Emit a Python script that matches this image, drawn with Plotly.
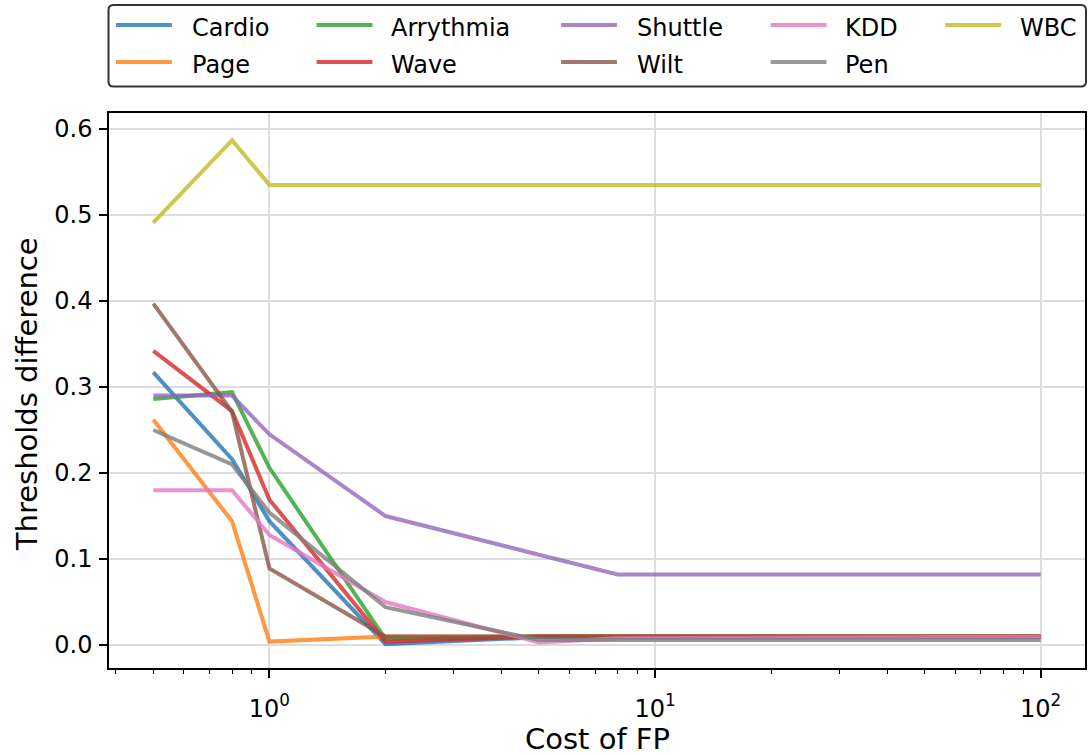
import plotly.graph_objects as go

# Cost of a false positive (log axis)
cost_fp = [0.5, 0.8, 1, 2, 5, 8, 100]

# Threshold difference per dataset
cardio    = [0.317, 0.216, 0.144, 0.001, 0.009, 0.009, 0.009]
page      = [0.262, 0.144, 0.004, 0.010, 0.010, 0.010, 0.010]
arrythmia = [0.286, 0.294, 0.206, 0.007, 0.010, 0.010, 0.010]
wave      = [0.342, 0.272, 0.169, 0.004, 0.010, 0.010, 0.010]
shuttle   = [0.290, 0.290, 0.245, 0.150, 0.105, 0.082, 0.082]
wilt      = [0.397, 0.271, 0.089, 0.010, 0.010, 0.010, 0.010]
kdd       = [0.180, 0.180, 0.128, 0.050, 0.003, 0.008, 0.0097]
pen       = [0.250, 0.210, 0.154, 0.044, 0.006, 0.006, 0.006]
wbc       = [0.491, 0.587, 0.535, 0.535, 0.535, 0.535, 0.535]

names = ["Cardio", "Page", "Arrythmia", "Wave", "Shuttle", "Wilt", "KDD", "Pen", "WBC"]
series = [cardio, page, arrythmia, wave, shuttle, wilt, kdd, pen, wbc]
colors = ["#1f77b4", "#ff7f0e", "#2ca02c", "#d62728", "#9467bd",
          "#8c564b", "#e377c2", "#7f7f7f", "#bcbd22"]

y_ticks = [0.0, 0.1, 0.2, 0.3, 0.4, 0.5, 0.6]
x_major = [1, 10, 100]
x_major_text = ["10<sup>0</sup>", "10<sup>1</sup>", "10<sup>2</sup>"]
x_minor = [m * 10 ** e for e in (-1, 0, 1) for m in range(2, 10)]

FONT = "DejaVu Sans"
W, H = 1092, 755
L, R, T, B = 109, 5, 113, 87
PW, PH = W - L - R, H - T - B


def px_x(p):
    return (p - L) / PW


def px_y(p):
    return (H - B - p) / PH


def rgba(hex_color, a):
    h = hex_color.lstrip("#")
    r, g, b = int(h[0:2], 16), int(h[2:4], 16), int(h[4:6], 16)
    return f"rgba({r},{g},{b},{a})"


fig = go.Figure()
for name, vals, col in zip(names, series, colors):
    fig.add_trace(go.Scatter(
        x=cost_fp, y=vals, mode="lines", name=name,
        line=dict(color=col, width=4), opacity=0.8, showlegend=False,
    ))

# Legend: 5 columns x 2 rows, filled column by column
shapes = []
annotations = []
line_x0 = [116, 317, 562, 772, 947]
text_x0 = [190, 390, 636, 845, 1020]
row_y = [25, 62]
for i, (name, col) in enumerate(zip(names, colors)):
    c, r = divmod(i, 2)
    shapes.append(dict(
        type="line", xref="paper", yref="paper",
        x0=px_x(line_x0[c]), x1=px_x(line_x0[c] + 56),
        y0=px_y(row_y[r]), y1=px_y(row_y[r]),
        line=dict(color=rgba(col, 0.8), width=4),
    ))
    annotations.append(dict(
        text=name, xref="paper", yref="paper",
        x=px_x(text_x0[c]), y=px_y(row_y[r] + 3),
        xanchor="left", yanchor="middle", showarrow=False,
        font=dict(family=FONT, size=24, color="black"),
    ))

# Legend frame with rounded corners
fx0, fx1, fy0, fy1 = 108.5, 1088, 5, 86.5
rad = 5
X0, X1 = px_x(fx0), px_x(fx1)
Y0, Y1 = px_y(fy0), px_y(fy1)
rx, ry = rad / PW, rad / PH
path = (f"M {X0 + rx},{Y0} L {X1 - rx},{Y0} Q {X1},{Y0} {X1},{Y0 - ry} "
        f"L {X1},{Y1 + ry} Q {X1},{Y1} {X1 - rx},{Y1} "
        f"L {X0 + rx},{Y1} Q {X0},{Y1} {X0},{Y1 + ry} "
        f"L {X0},{Y0 - ry} Q {X0},{Y0} {X0 + rx},{Y0} Z")
shapes.append(dict(type="path", xref="paper", yref="paper", path=path,
                   line=dict(color="#333333", width=2), fillcolor="rgba(255,255,255,0.8)",
                   layer="below"))

# Axis titles
annotations.append(dict(
    text="Cost of FP", xref="paper", yref="paper",
    x=0.5, y=px_y(739), xanchor="center", yanchor="middle", showarrow=False,
    font=dict(family=FONT, size=29, color="black"),
))
annotations.append(dict(
    text="Thresholds difference", xref="paper", yref="paper",
    x=px_x(27), y=px_y(394), xanchor="center", yanchor="middle", showarrow=False,
    textangle=-90, font=dict(family=FONT, size=29, color="black"),
))

fig.update_layout(
    width=W, height=H,
    margin=dict(l=L, r=R, t=T, b=B),
    paper_bgcolor="white", plot_bgcolor="white",
    font=dict(family=FONT, size=24, color="black"),
    shapes=shapes, annotations=annotations,
    showlegend=False,
)

fig.update_xaxes(
    type="log", range=[-0.416, 2.115],
    tickvals=x_major, ticktext=x_major_text,
    ticks="outside", ticklen=8, tickwidth=1.5, tickcolor="black",
    ticklabelstandoff=10,
    showline=True, linecolor="black", linewidth=1.5, mirror=True,
    showgrid=True, gridcolor="#dddddd", gridwidth=1.6, zeroline=False,
    tickfont=dict(family=FONT, size=24, color="black"),
    minor=dict(tickvals=x_minor, ticks="outside", ticklen=4.5, tickwidth=1.2,
               tickcolor="black", showgrid=False),
)
fig.update_yaxes(
    range=[-0.0267, 0.6186],
    tickvals=y_ticks, tickformat=".1f",
    ticks="outside", ticklen=8, tickwidth=1.5, tickcolor="black",
    ticklabelstandoff=2,
    showline=True, linecolor="black", linewidth=1.5, mirror=True,
    showgrid=True, gridcolor="#dddddd", gridwidth=1.6, zeroline=False,
    tickfont=dict(family=FONT, size=24, color="black"),
)

fig.write_html("out.html")
